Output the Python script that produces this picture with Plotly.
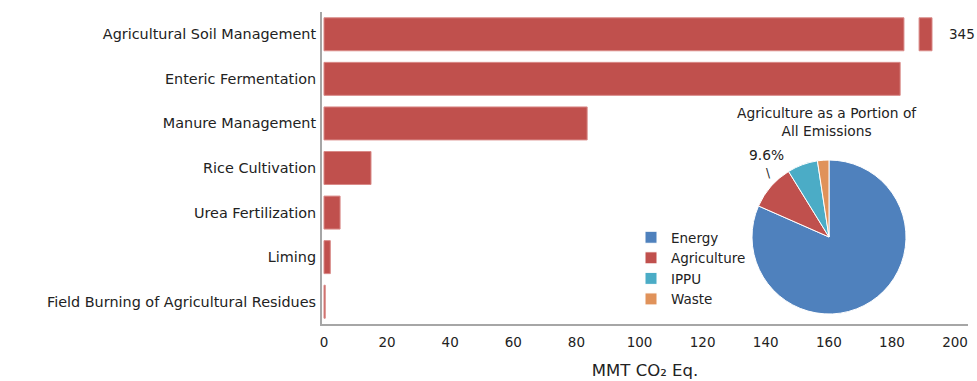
import plotly.graph_objects as go

# ---- data ----
categories = [
    "Agricultural Soil Management",
    "Enteric Fermentation",
    "Manure Management",
    "Rice Cultivation",
    "Urea Fertilization",
    "Liming",
    "Field Burning of Agricultural Residues",
]
values = [345, 182.6, 83.4, 14.9, 5.1, 2.0, 0.4]

pie_labels = ["Energy", "Agriculture", "IPPU", "Waste"]
pie_values = [81.6, 9.6, 6.4, 2.4]

x_ticks = [0, 20, 40, 60, 80, 100, 120, 140, 160, 180, 200]

# ---- style / layout constants ----
BAR_COLOR = "#C0504D"
PIE_COLORS = ["#4F81BD", "#C0504D", "#4BACC6", "#E0925A"]
FONT = "DejaVu Sans"
BREAK_AT = 183.8       # where an off-scale bar is cut
STUB = (188.6, 192.7)  # stub segment shown after the break
AXIS_MAX = 200.0

W, H = 977, 381
PL, PR, PT, PB = 322, 968, 12, 324  # plot area in page pixels
ML, MR, MT, MB = PL, W - PR, PT, H - PB

main_vals = [min(v, BREAK_AT) if v > AXIS_MAX else v for v in values]
stub_cats = [c for c, v in zip(categories, values) if v > AXIS_MAX]
stub_vals = [v for v in values if v > AXIS_MAX]

fig = go.Figure()
fig.add_trace(go.Bar(
    y=categories, x=main_vals, orientation="h",
    marker=dict(color=BAR_COLOR, line=dict(color="#D98A88", width=1)),
    showlegend=False, hoverinfo="x+y",
))
fig.add_trace(go.Bar(
    y=stub_cats, x=[STUB[1] - STUB[0]] * len(stub_cats), base=[STUB[0]] * len(stub_cats),
    orientation="h",
    marker=dict(color=BAR_COLOR, line=dict(color="#D98A88", width=1)),
    showlegend=False, hoverinfo="skip",
))
for c, v in zip(stub_cats, stub_vals):
    fig.add_annotation(x=STUB[1] + 4.6, y=c, text=f"{v:g}", showarrow=False,
                       xanchor="left", yanchor="middle",
                       font=dict(family=FONT, size=13.5, color="#222"))

plot_w = PR - PL
plot_h = PB - PT

def px_x(p):
    return (p - PL) / plot_w

def px_y(p):
    return (PB - p) / plot_h

fig.add_trace(go.Pie(
    labels=pie_labels, values=pie_values, sort=False, direction="clockwise",
    rotation=0, marker=dict(colors=PIE_COLORS, line=dict(color="white", width=1)),
    textinfo="none", hoverinfo="label+percent",
    domain=dict(x=[px_x(752), px_x(906)], y=[px_y(314), px_y(160)]),
))

fig.add_annotation(xref="paper", yref="paper", x=px_x(827), y=px_y(122),
                   text="Agriculture as a Portion of<br>All Emissions", showarrow=False,
                   xanchor="center", yanchor="middle",
                   font=dict(family=FONT, size=13.8, color="#222"))
fig.add_annotation(xref="paper", yref="paper", x=px_x(766), y=px_y(155),
                   text=f"{pie_values[1]:.1f}%", showarrow=False,
                   xanchor="center", yanchor="middle",
                   font=dict(family=FONT, size=13.8, color="#222"))
fig.add_annotation(xref="paper", yref="paper", x=px_x(768), y=px_y(173),
                   text="\\", showarrow=False, xanchor="center", yanchor="middle",
                   font=dict(family=FONT, size=12, color="#222"))

fig.update_layout(
    width=W, height=H,
    margin=dict(l=ML, r=MR, t=MT, b=MB, autoexpand=False),
    plot_bgcolor="white", paper_bgcolor="white",
    barmode="overlay", bargap=0.26,
    font=dict(family=FONT, size=13, color="#222"),
    showlegend=True,
    legend=dict(x=px_x(631), y=px_y(222), xanchor="left", yanchor="top",
                font=dict(family=FONT, size=13.5, color="#222"),
                bgcolor="rgba(0,0,0,0)", tracegroupgap=0),
    xaxis=dict(range=[-0.63, 204.1], tickvals=x_ticks, showgrid=False, zeroline=False,
               showline=True, linecolor="#A6A6A6", linewidth=2, ticks="",
               ticklabelstandoff=5,
               tickfont=dict(family=FONT, size=13.5, color="#222"),
               title=dict(text="MMT CO₂ Eq.", font=dict(family=FONT, size=16.5, color="#222"),
                          standoff=15)),
    yaxis=dict(categoryorder="array", categoryarray=categories[::-1],
               showgrid=False, zeroline=False, showline=True, linecolor="#A6A6A6",
               linewidth=2, ticks="", ticklabelstandoff=1,
               tickfont=dict(family=FONT, size=14.4, color="#222")),
)

fig.write_html(
    "out.html",
    config={"displayModeBar": False},
    post_script="document.body.style.margin='0';document.body.style.overflow='hidden';",
)
